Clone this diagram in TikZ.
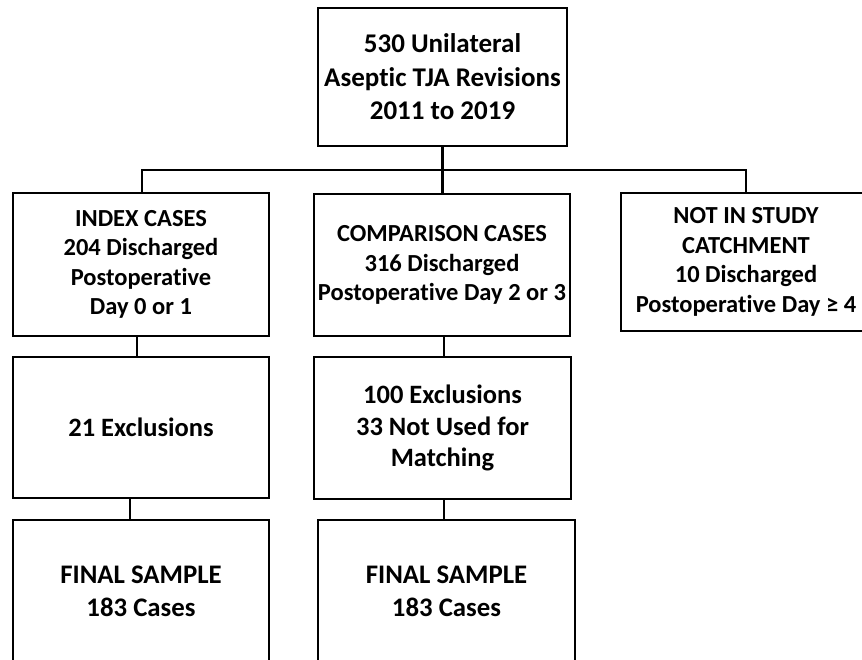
\documentclass[tikz,border=0pt]{standalone}
\usepackage{fontspec}
\setmainfont{Carlito}[Ligatures=NoCommon]
\begin{document}
\begin{tikzpicture}[x=1pt,y=1pt,
  box/.style={draw=black,line width=2.6pt,rectangle,inner sep=0pt,align=center,font=\bfseries},
  conn/.style={draw=black,line width=2.6pt}]
\clip (0,0) rectangle (862,-660);
\useasboundingbox (0,0) rectangle (862,-660);
\node[box,minimum width=249pt,minimum height=138pt,font=\bfseries\fontsize{27}{33.5}\selectfont] (top) at (442.5,-77) {530 Unilateral\\Aseptic TJA Revisions\\2011 to 2019};
\node[box,minimum width=256pt,minimum height=143pt,font=\bfseries\fontsize{24.5}{29.5}\selectfont] (idx) at (141,-264.5) {INDEX CASES\\204 Discharged\\Postoperative\\Day 0 or 1};
\node[box,minimum width=256pt,minimum height=142pt,font=\bfseries\fontsize{24.5}{29.5}\selectfont] (cmp) at (442,-265) {COMPARISON CASES\\316 Discharged\\Postoperative Day 2 or 3};
\node[box,minimum width=250pt,minimum height=138pt,font=\bfseries\fontsize{24.5}{29.5}\selectfont] (nis) at (746,-262) {NOT IN STUDY\\CATCHMENT\\10 Discharged\\Postoperative Day ≥ 4};
\node[box,minimum width=256pt,minimum height=141pt,font=\bfseries\fontsize{26.5}{31.5}\selectfont] (exl) at (141,-427.5) {21 Exclusions};
\node[box,minimum width=257pt,minimum height=142pt,font=\bfseries\fontsize{26.5}{31.5}\selectfont] (exm) at (442.5,-428) {100 Exclusions\\33 Not Used for\\Matching};
\node[box,minimum width=256pt,minimum height=142pt,font=\bfseries\fontsize{26.8}{33}\selectfont] (fsl) at (141,-591) {FINAL SAMPLE\\183 Cases};
\node[box,minimum width=257pt,minimum height=142pt,font=\bfseries\fontsize{26.8}{33}\selectfont] (fsm) at (446.5,-591) {FINAL SAMPLE\\183 Cases};
\coordinate (bar) at (442,-170);
\draw[conn] (top.south) -- (top.south |- cmp.north);
\draw[conn] (idx.north -| 142,0) |- (bar) -| (nis.north);
\draw[conn] ([xshift=-4pt]idx.south) -- ([xshift=-4pt]idx.south |- exl.north);
\draw[conn] ([xshift=2pt]cmp.south) -- ([xshift=2pt]cmp.south |- exm.north);
\draw[conn] ([xshift=-11pt]exl.south) -- ([xshift=-11pt]exl.south |- fsl.north);
\draw[conn] ([xshift=1.5pt]exm.south) -- ([xshift=1.5pt]exm.south |- fsm.north);
\end{tikzpicture}
\end{document}
